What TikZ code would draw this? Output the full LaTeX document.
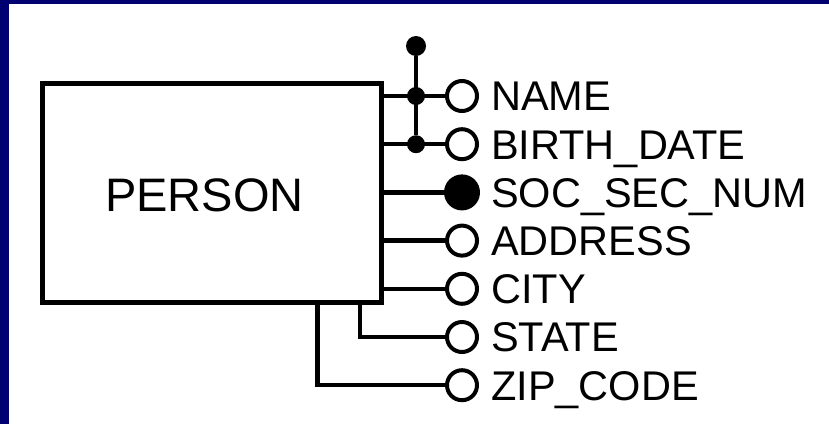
\documentclass[tikz,border=0pt]{standalone}
\usepackage{fontspec}
\setmainfont{Liberation Sans}
\definecolor{navy}{RGB}{0,0,112}
\begin{document}
\begin{tikzpicture}[x=1pt,y=-1pt,
  conn/.style={line width=4.5pt},
  entbox/.style={draw, line width=5pt, minimum width=339pt, minimum height=219pt, inner sep=0},
  opencirc/.style={circle, draw, fill=white, line width=4pt, minimum size=30pt, inner sep=0},
  fillcirc/.style={circle, fill=black, minimum size=36pt, inner sep=0},
  topdot/.style={circle, fill=black, minimum size=20pt, inner sep=0},
  jdot/.style={circle, fill=black, minimum size=18pt, inner sep=0},
  lab/.style={anchor=base west, inner sep=0, font=\fontsize{41.5}{48}\selectfont},
  title/.style={anchor=base, inner sep=0, font=\fontsize{47}{56}\selectfont}]
\useasboundingbox (0,0) rectangle (829,424);
\fill[navy] (0,0) rectangle (829,424);
\fill[white] (9,4) rectangle (829,424);
% entity
\node[entbox] (box) at (211.5,192.5) {};
\node[title] (person) at (204.5,211.5) {PERSON};
% attribute circles
\node[opencirc] (c1) at (462,96) {};
\node[opencirc] (c2) at (462,144.2) {};
\node[fillcirc] (c3) at (462,192.4) {};
\node[opencirc] (c4) at (462,240.6) {};
\node[opencirc] (c5) at (462,288.8) {};
\node[opencirc] (c6) at (462,337) {};
\node[opencirc] (c7) at (462,385.2) {};
% labels
\node[lab] (l1) at (491,110.8) {NAME};
\node[lab] (l2) at (491,159) {BIRTH\_DATE};
\node[lab] (l3) at (491,207.2) {SOC\_SEC\_NUM};
\node[lab] (l4) at (491,255.4) {ADDRESS};
\node[lab] (l5) at (491,303.6) {CITY};
\node[lab] (l6) at (491,351.8) {STATE};
\node[lab] (l7) at (491,400) {ZIP\_CODE};
% connectors
\draw[conn] (box.east |- c1) -- (c1);
\draw[conn] (box.east |- c2) -- (c2);
\draw[conn] (box.east |- c3) -- (c3);
\draw[conn] (box.east |- c4) -- (c4);
\draw[conn] (box.east |- c5) -- (c5);
\draw[conn] ([xshift=-23.5pt]box.south east) |- (c6);
\draw[conn] ([xshift=-66pt]box.south east) |- (c7);
% composite identifier
\node[topdot] (t) at (416,46) {};
\node[jdot] (j1) at (416,96) {};
\node[jdot] (j2) at (416,144.2) {};
\draw[conn] (t) -- (j2);
\end{tikzpicture}
\end{document}
